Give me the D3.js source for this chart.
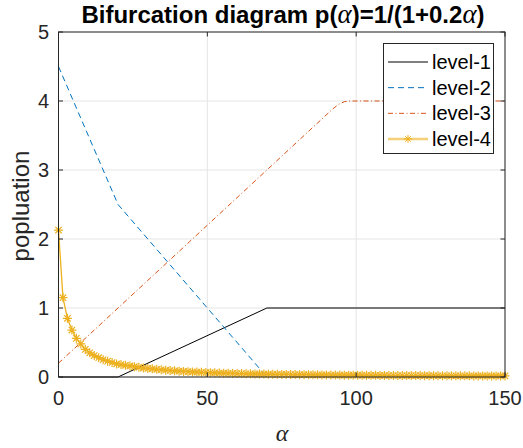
<!DOCTYPE html>
<html>
<head>
<meta charset="utf-8">
<script src="https://cdn.jsdelivr.net/npm/d3@7"></script>
<style>
  html, body { margin: 0; padding: 0; background: #fff; }
  svg { display: block; }
</style>
</head>
<body>
<svg id="chart" width="523" height="448"></svg>
<script>
// ---- data ----
const xTicks = [0, 50, 100, 150];
const yTicks = [0, 1, 2, 3, 4, 5];
const seriesNames = ["level-1", "level-2", "level-3", "level-4"];

// piecewise-linear branches: [alpha, population]
const level1 = [[0, 0], [20, 0], [70, 1], [150, 1]];
const level2 = [[0, 4.5], [20, 2.5], [70, 0]];
const level3 = [[0, 0.2], [92, 3.88], [94, 3.95], [96, 3.99], [98, 4.0], [150, 4.0]];

// sampled branch (alpha step 1.5)
const level4Alpha = d3.range(0, 150.0001, 1.5);
const level4Values = [
  2.13, 1.15, 0.85, 0.68, 0.56, 0.48, 0.40, 0.35, 0.31, 0.28,
  0.25, 0.23, 0.21, 0.19, 0.18, 0.17, 0.16, 0.15, 0.14, 0.13,
  0.125, 0.118, 0.111, 0.105, 0.099, 0.094, 0.089, 0.085, 0.081, 0.077,
  0.074, 0.071, 0.068, 0.065, 0.063, 0.060, 0.058, 0.056, 0.054, 0.052,
  0.050, 0.049, 0.047, 0.046, 0.044, 0.043, 0.042, 0.041, 0.040, 0.039,
  0.038, 0.037, 0.036, 0.035, 0.034, 0.033, 0.033, 0.032, 0.031, 0.030,
  0.030, 0.029, 0.028, 0.028, 0.027, 0.027, 0.026, 0.026, 0.025, 0.025,
  0.024, 0.024, 0.023, 0.023, 0.022, 0.022, 0.022, 0.021, 0.021, 0.020,
  0.020, 0.020, 0.019, 0.019, 0.019, 0.018, 0.018, 0.018, 0.018, 0.017,
  0.017, 0.017, 0.017, 0.016, 0.016, 0.016, 0.016, 0.015, 0.015, 0.015,
  0.015
];
const level4 = level4Alpha.map((a, i) => [a, level4Values[i]]);

// ---- layout ----
const svg = d3.select("#chart");
const margin = { left: 58.5, right: 505, top: 32, bottom: 377 };
const x = d3.scaleLinear().domain([0, 150]).range([margin.left, margin.right]);
const y = d3.scaleLinear().domain([0, 5]).range([margin.bottom, margin.top]);
const axisColor = "#262626";
const font = "'Liberation Sans', Arial, Helvetica, sans-serif";
const serif = "'Liberation Serif', 'Times New Roman', serif";

// grid
const grid = svg.append("g");
grid.selectAll(".gx").data(xTicks).join("line")
  .attr("x1", d => x(d)).attr("x2", d => x(d))
  .attr("y1", margin.top).attr("y2", margin.bottom)
  .attr("stroke", "#e5e5e5").attr("stroke-width", 1);
grid.selectAll(".gy").data(yTicks).join("line")
  .attr("x1", margin.left).attr("x2", margin.right)
  .attr("y1", d => y(d)).attr("y2", d => y(d))
  .attr("stroke", "#e5e5e5").attr("stroke-width", 1);

// series
const line = d3.line().x(d => x(d[0])).y(d => y(d[1]));
const plot = svg.append("g");
plot.append("path").datum(level1).attr("d", line)
  .attr("fill", "none").attr("stroke", "#000").attr("stroke-width", 1);
plot.append("path").datum(level2).attr("d", line)
  .attr("fill", "none").attr("stroke", "#0072BD").attr("stroke-width", 1)
  .attr("stroke-dasharray", "6,4");
plot.append("path").datum(level3).attr("d", line)
  .attr("fill", "none").attr("stroke", "#D95319").attr("stroke-width", 1)
  .attr("stroke-dasharray", "5,2.5,1,2.5");
plot.append("path").datum(level4).attr("d", line)
  .attr("fill", "none").attr("stroke", "#EDB120").attr("stroke-width", 1.3);

// asterisk marker
function starPath(cx, cy, r) {
  const d = r * 0.7071;
  return `M${cx - r},${cy}L${cx + r},${cy}M${cx},${cy - r}L${cx},${cy + r}` +
         `M${cx - d},${cy - d}L${cx + d},${cy + d}M${cx - d},${cy + d}L${cx + d},${cy - d}`;
}
plot.selectAll(".mk").data(level4).join("path")
  .attr("d", d => starPath(x(d[0]), y(d[1]), 4.5))
  .attr("fill", "none").attr("stroke", "#EDB120").attr("stroke-width", 1.2);

// axes box
const box = svg.append("g").attr("stroke", axisColor).attr("fill", "none");
box.append("rect")
  .attr("x", margin.left).attr("y", margin.top)
  .attr("width", margin.right - margin.left).attr("height", margin.bottom - margin.top)
  .attr("stroke-width", 1);

// ticks (inward, all four sides)
const tk = 4.5;
box.selectAll(".tb").data(xTicks).join("line")
  .attr("x1", d => x(d)).attr("x2", d => x(d))
  .attr("y1", margin.bottom).attr("y2", margin.bottom - tk);
box.selectAll(".tt").data(xTicks).join("line")
  .attr("x1", d => x(d)).attr("x2", d => x(d))
  .attr("y1", margin.top).attr("y2", margin.top + tk);
box.selectAll(".tl").data(yTicks).join("line")
  .attr("x1", margin.left).attr("x2", margin.left + tk)
  .attr("y1", d => y(d)).attr("y2", d => y(d));
box.selectAll(".tr").data(yTicks).join("line")
  .attr("x1", margin.right).attr("x2", margin.right - tk)
  .attr("y1", d => y(d)).attr("y2", d => y(d));

// tick labels
svg.append("g").selectAll("text").data(xTicks).join("text")
  .attr("x", d => x(d)).attr("y", 405)
  .attr("text-anchor", "middle")
  .attr("font-family", font).attr("font-size", 20).attr("fill", axisColor)
  .text(d => d);
svg.append("g").selectAll("text").data(yTicks).join("text")
  .attr("x", 49).attr("y", d => y(d) + 7)
  .attr("text-anchor", "end")
  .attr("font-family", font).attr("font-size", 20).attr("fill", axisColor)
  .text(d => d);

// axis labels
svg.append("text")
  .attr("transform", "translate(29,206) rotate(-90)")
  .attr("text-anchor", "middle")
  .attr("font-family", font).attr("font-size", 24).attr("fill", axisColor)
  .text("popluation");
svg.append("text")
  .attr("x", 282).attr("y", 441)
  .attr("text-anchor", "middle")
  .attr("font-family", serif)
  .attr("font-style", "italic").attr("font-size", 24).attr("fill", axisColor)
  .text("α");

// title
const title = svg.append("text")
  .attr("x", 283).attr("y", 23)
  .attr("text-anchor", "middle")
  .attr("font-family", font).attr("font-weight", "bold")
  .attr("font-size", 24).attr("fill", "#000");
title.append("tspan").text("Bifurcation diagram p(");
title.append("tspan").attr("font-family", serif).attr("font-size", 27)
  .attr("font-style", "italic").attr("font-weight", "normal").text("α");
title.append("tspan").text(")=1/(1+0.2");
title.append("tspan").attr("font-family", serif).attr("font-size", 27)
  .attr("font-style", "italic").attr("font-weight", "normal").text("α");
title.append("tspan").text(")");

// legend
const lg = svg.append("g");
lg.append("rect")
  .attr("x", 383.5).attr("y", 43.5).attr("width", 110).attr("height", 110)
  .attr("fill", "#fff").attr("stroke", axisColor).attr("stroke-width", 1);
const legendStyles = [
  { stroke: "#000", dash: null, w: 1 },
  { stroke: "#0072BD", dash: "6,4", w: 1 },
  { stroke: "#D95319", dash: "5,2.5,1,2.5", w: 1 },
  { stroke: "#EDB120", dash: null, w: 2.5, marker: true }
];
const ly = d3.scaleLinear().domain([0, 3]).range([62, 139]);
seriesNames.forEach((name, i) => {
  const st = legendStyles[i];
  const yy = ly(i);
  const ln = lg.append("line")
    .attr("x1", 388).attr("x2", 428).attr("y1", yy).attr("y2", yy)
    .attr("stroke", st.stroke).attr("stroke-width", st.w);
  if (st.dash) ln.attr("stroke-dasharray", st.dash);
  if (st.marker) {
    ln.attr("stroke-opacity", 0.6);
    lg.append("path").attr("d", starPath(408, yy, 4))
      .attr("fill", "none").attr("stroke", st.stroke).attr("stroke-width", 1);
  }
  lg.append("text")
    .attr("x", 432).attr("y", yy + 7)
    .attr("font-family", font).attr("font-size", 20).attr("fill", "#000")
    .text(name);
});
</script>
</body>
</html>
